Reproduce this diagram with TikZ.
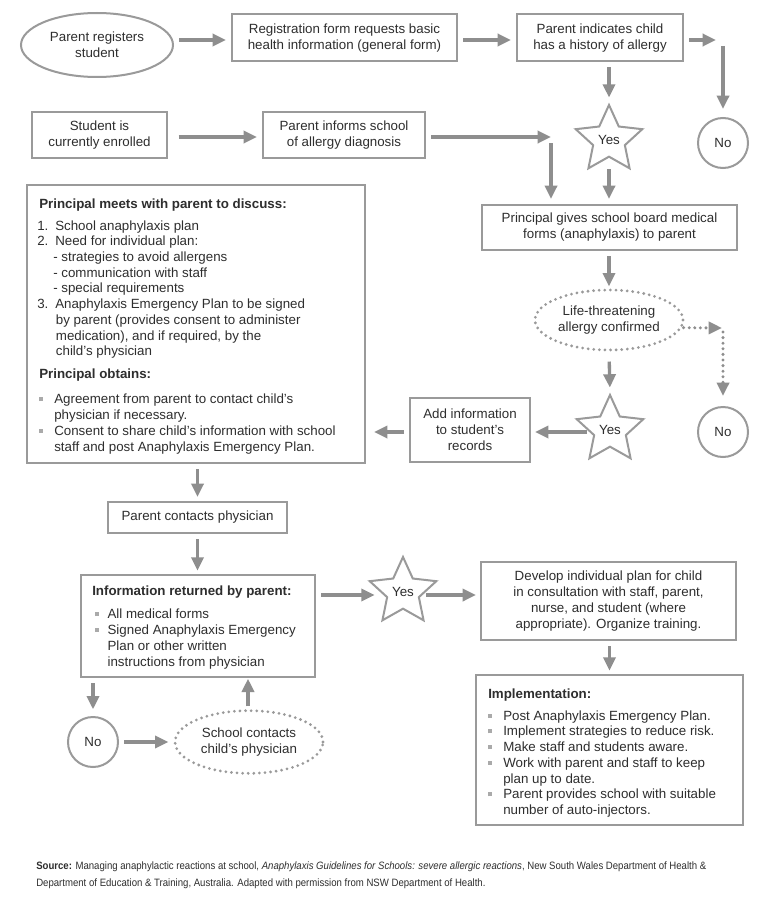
\documentclass[tikz,border=0pt]{standalone}
\usepackage{fontspec}
\setmainfont{Liberation Sans}
\newfontfamily\narrowfont[FakeStretch=0.9]{Liberation Sans}
\usetikzlibrary{shapes.geometric,arrows.meta,calc}
\definecolor{txt}{HTML}{2E2E2E}
\definecolor{ln}{HTML}{9A9A9A}
\definecolor{arw}{HTML}{8E8E8E}
\definecolor{bulc}{HTML}{AAAAAA}
\newcommand\bulA{\makebox[12pt][l]{\hspace*{0.5pt}\textcolor{bulc}{\rule[0.2em]{3pt}{3pt}}}}
\newcommand\bulB{\makebox[10pt][l]{\hspace*{0.5pt}\textcolor{bulc}{\rule[0.2em]{3pt}{3pt}}}}
\begin{document}
\begin{tikzpicture}[x=0.75pt,y=-0.75pt,text=txt,
  box/.style={draw=ln, line width=1.5pt, rectangle, inner sep=0, align=center},
  ell/.style={draw=ln, line width=1.5pt, ellipse, inner sep=0, align=center},
  dotell/.style={draw=ln, line width=2.3pt, ellipse, inner sep=0, align=center, dash pattern=on 0pt off 4.2pt, line cap=round},
  circ/.style={draw=ln, line width=1.5pt, circle, inner sep=0, minimum size=37.5pt},
  starnode/.style={draw=ln, line width=1.5pt, star, star points=5, star point ratio=2.1, inner sep=0, minimum size=52.5pt},
  arr/.style={draw=arw, line width=2.5pt, -{Triangle[length=10pt,width=9pt]}, shorten <=3.75pt, shorten >=3.75pt},
  dotarr/.style={arr, dash pattern=on 0pt off 4.2pt, line cap=round},
  lst/.style={anchor=west, align=left, inner sep=0, font=\fontsize{10}{11.8}\selectfont},
  hd/.style={anchor=west, inner sep=0, font=\bfseries},
]
\useasboundingbox (0,0) rectangle (768,899);
\fill[white] (0,0) rectangle (768,899);

% row 1
\node[ell, minimum width=114pt, minimum height=48pt] (reg) at (97,45) {Parent registers\\student};
\node[box, minimum width=168.75pt, minimum height=35.25pt] (form) at (344.5,38) {Registration form requests basic\\health information (general form)};
\node[box, minimum width=124.5pt, minimum height=35.25pt] (indic) at (600,38) {Parent indicates child\\has a history of allergy};
\coordinate (c1) at (721,40);
\coordinate (c1b) at (723,46);
\node[circ] (no1) at (723,143) {No};
\node[starnode] (yes1) at (609,140) {Yes};

% row 2
\node[box, minimum width=101.25pt, minimum height=34.5pt] (enrol) at (99.5,135) {Student is\\currently enrolled};
\node[box, minimum width=121.5pt, minimum height=34.5pt] (inform) at (344,135) {Parent informs school\\of allergy diagnosis};
\coordinate (c2) at (551,137);
\coordinate (c3) at (551,143);

\node[box, minimum width=191.25pt, minimum height=33.75pt] (gives) at (609.5,227.5) {Principal gives school board medical\\forms (anaphylaxis) to parent};
\node[dotell, minimum width=111pt, minimum height=45pt] (life) at (609,320) {Life-threatening\\allergy confirmed};
\coordinate (c4) at (722,328);
\coordinate (c5) at (723,332);
\node[circ] (no2) at (723,432) {No};
\node[starnode] (yes2) at (610,430) {Yes};
\node[box, minimum width=90pt, minimum height=48pt] (addinfo) at (470,430) {Add information\\to student's\\records};

% big box
\node[box, minimum width=253.5pt, minimum height=208.5pt] (meet) at (196,324) {};
\node[hd] (h1) at (39,205) {Principal meets with parent to discuss:};
\node[lst] (l1) at (37,289.5) {%
\makebox[13.5pt][l]{1.}School anaphylaxis plan\\
\makebox[13.5pt][l]{2.}Need for individual plan:\\
\hspace*{12pt}- strategies to avoid allergens\\
\hspace*{12pt}- communication with staff\\
\hspace*{12pt}- special requirements\\
\makebox[13.5pt][l]{3.}Anaphylaxis Emergency Plan to be signed\\
\hspace*{14pt}by parent (provides consent to administer\\
\hspace*{14pt}medication), and if required, by the\\
\hspace*{14pt}child's physician};
\node[hd] (h2) at (39,375) {Principal obtains:};
\node[lst] (l2) at (38,424) {%
\bulA Agreement from parent to contact child's\\
\hspace*{12pt}physician if necessary.\\
\bulA Consent to share child's information with school\\
\hspace*{12pt}staff and post Anaphylaxis Emergency Plan.};

\node[box, minimum width=134.25pt, minimum height=23.25pt] (contacts) at (197.5,517.5) {Parent contacts physician};
\node[box, minimum width=175.5pt, minimum height=76.5pt] (inforet) at (198,626) {};
\node[hd] (h3) at (92,592) {Information returned by parent:};
\node[lst] (l3) at (94,639) {%
\bulB All medical forms\\
\bulB Signed Anaphylaxis Emergency\\
\hspace*{10pt}Plan or other written\\
\hspace*{10pt}instructions from physician};
\node[starnode] (yes3) at (403,592) {Yes};
\node[box, minimum width=191.25pt, minimum height=58.5pt] (develop) at (608.5,601) {Develop individual plan for child\\in consultation with staff, parent,\\nurse, and student (where\\appropriate). Organize training.};
\node[box, minimum width=200.25pt, minimum height=112.5pt] (impl) at (609.5,750) {};
\node[hd] (h4) at (488,695) {Implementation:};
\node[lst] (l4) at (487,764) {%
\bulA Post Anaphylaxis Emergency Plan.\\
\bulA Implement strategies to reduce risk.\\
\bulA Make staff and students aware.\\
\bulA Work with parent and staff to keep\\
\hspace*{12pt}plan up to date.\\
\bulA Parent provides school with suitable\\
\hspace*{12pt}number of auto-injectors.};
\node[circ] (no3) at (93,742) {No};
\node[dotell, minimum width=111pt, minimum height=47pt] (school) at (249,742) {School contacts\\child's physician};

% footnote
\node[anchor=base west, inner sep=0, font=\narrowfont\fontsize{8}{9}\selectfont] (fn1) at (36,869) {\textbf{Source:} Managing anaphylactic reactions at school, \textit{Anaphylaxis Guidelines for Schools: severe allergic reactions}, New South Wales Department of Health \&};
\node[anchor=base west, inner sep=0, font=\narrowfont\fontsize{8}{9}\selectfont] (fn2) at (36,886) {Department of Education \& Training, Australia. Adapted with permission from NSW Department of Health.};

% arrows
\draw[arr] (reg.east |- 0,40) -- (form.west |- 0,40);
\draw[arr] (form.east |- 0,40) -- (indic.west |- 0,40);
\draw[arr] (indic.east |- c1) -- (c1);
\draw[arr, shorten <=0pt, shorten >=6pt] (c1b) -- (no1.north);
\draw[arr] (indic.south -| yes1.north) -- (yes1.north);
\draw[arr, shorten <=8.5pt] (yes1.south) -- (yes1.south |- gives.north);
\draw[arr, shorten <=8pt] (enrol.east |- c2) -- (inform.west |- c2);
\draw[arr, shorten >=0pt] (inform.east |- c2) -- (c2);
\draw[arr, shorten <=0pt] (c3) -- (c3 |- gives.north);
\draw[arr, shorten >=1.5pt] (gives.south -| life.north) -- (life.north);
\draw[dotarr, shorten <=1pt, shorten >=0pt] (life.-6) -- (c4);
\draw[dotarr, shorten <=0pt, shorten >=7.5pt] (c5) -- (no2.north);
\draw[arr, shorten <=7.5pt] (life.south) -- (yes2.north);
\draw[arr, shorten <=0pt, shorten >=3pt] (yes2.west |- 0,432) -- (addinfo.east |- 0,432);
\draw[arr, shorten >=6pt] (addinfo.west |- 0,432) -- (meet.east |- 0,432);
\draw[arr, shorten >=3pt] (contacts.north |- meet.south) -- (contacts.north);
\draw[arr, shorten >=2.5pt] (contacts.south) -- (contacts.south |- inforet.north);
\draw[arr, shorten >=4pt] (inforet.east |- 0,595) -- (yes3.west |- 0,595);
\draw[arr, shorten <=0pt, shorten >=3pt] (yes3.east |- 0,595) -- (develop.west |- 0,595);
\draw[arr, shorten >=2.5pt] (develop.south -| impl.north) -- (impl.north);
\draw[arr, shorten >=5pt] (no3.north |- inforet.south) -- (no3.north);
\draw[arr] (no3.east) -- (school.west);
\draw[arr, shorten <=2pt, shorten >=0.5pt] (school.north -| 248,0) -- (inforet.south -| 248,0);
\end{tikzpicture}
\end{document}
